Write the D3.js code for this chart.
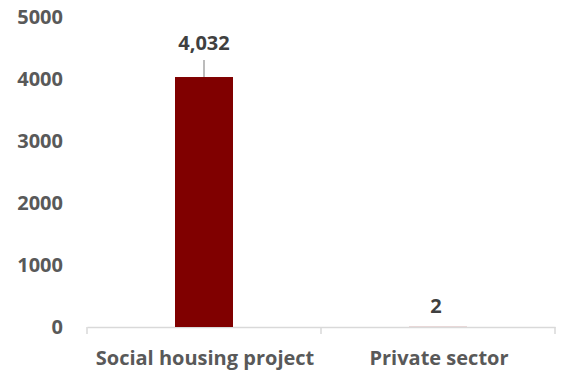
<!DOCTYPE html>
<html><head><meta charset="utf-8">
<script src="https://cdn.jsdelivr.net/npm/d3@7"></script>
<style>body{margin:0;background:#fff}svg{display:block}</style>
</head><body>
<svg id="c" width="561" height="372"></svg>
<script>
const categories = ["Social housing project", "Private sector"];
const values = [4032, 2];
const yTicks = [0, 1000, 2000, 3000, 4000, 5000];

const svg = d3.select("#c");
const font = "'Open Sans', sans-serif";
const x = d3.scaleBand().domain(categories).range([87, 555]).paddingInner(0).paddingOuter(0);
const y = d3.scaleLinear().domain([0, 5000]).range([327, 17]);

// y tick labels
svg.append("g").selectAll("text").data(yTicks).join("text")
  .attr("x", 63).attr("y", d => y(d)).attr("dy", "0.35em")
  .attr("text-anchor", "end").attr("font-family", font).attr("font-weight", 700)
  .attr("font-size", 20).attr("fill", "#595959").text(d => d);

// x axis
const xAxis = svg.append("g").attr("transform", `translate(0,${y(0)})`)
  .call(d3.axisBottom(x).tickSize(0).tickFormat(""));
xAxis.select(".domain").attr("stroke", "#d9d9d9").attr("stroke-width", 1.5);
const bounds = [x.range()[0], ...categories.map(c => x(c) + x.bandwidth())];
svg.append("g").selectAll("line").data(bounds).join("line")
  .attr("x1", d => d).attr("x2", d => d).attr("y1", y(0)).attr("y2", y(0) + 7)
  .attr("stroke", "#d9d9d9").attr("stroke-width", 1.5);

svg.append("g").selectAll("text").data(categories).join("text")
  .attr("x", d => x(d) + x.bandwidth() / 2 + 1).attr("y", 365)
  .attr("text-anchor", "middle").attr("font-family", font).attr("font-weight", 700)
  .attr("font-size", 20).attr("fill", "#595959").text(d => d);

// bars
const bw = 58;
svg.append("g").selectAll("rect").data(values).join("rect")
  .attr("x", (d, i) => x(categories[i]) + x.bandwidth() / 2 - bw / 2)
  .attr("y", d => y(d)).attr("width", bw).attr("height", d => y(0) - y(d))
  .attr("fill", "#800000");

// leader line for first label
svg.append("line")
  .attr("x1", x(categories[0]) + x.bandwidth() / 2).attr("x2", x(categories[0]) + x.bandwidth() / 2)
  .attr("y1", y(values[0]) - 17).attr("y2", y(values[0]))
  .attr("stroke", "#a6a6a6").attr("stroke-width", 1.5);

const fmt = d3.format(",");
const labelY = [43, 306];
svg.append("g").selectAll("text").data(values).join("text")
  .attr("x", (d, i) => x(categories[i]) + x.bandwidth() / 2 - (i ? 2 : 0))
  .attr("y", (d, i) => labelY[i]).attr("dy", "0.35em")
  .attr("text-anchor", "middle").attr("font-family", font).attr("font-weight", 700)
  .attr("font-size", 20).attr("fill", "#404040").text(d => fmt(d));
</script>
</body></html>
